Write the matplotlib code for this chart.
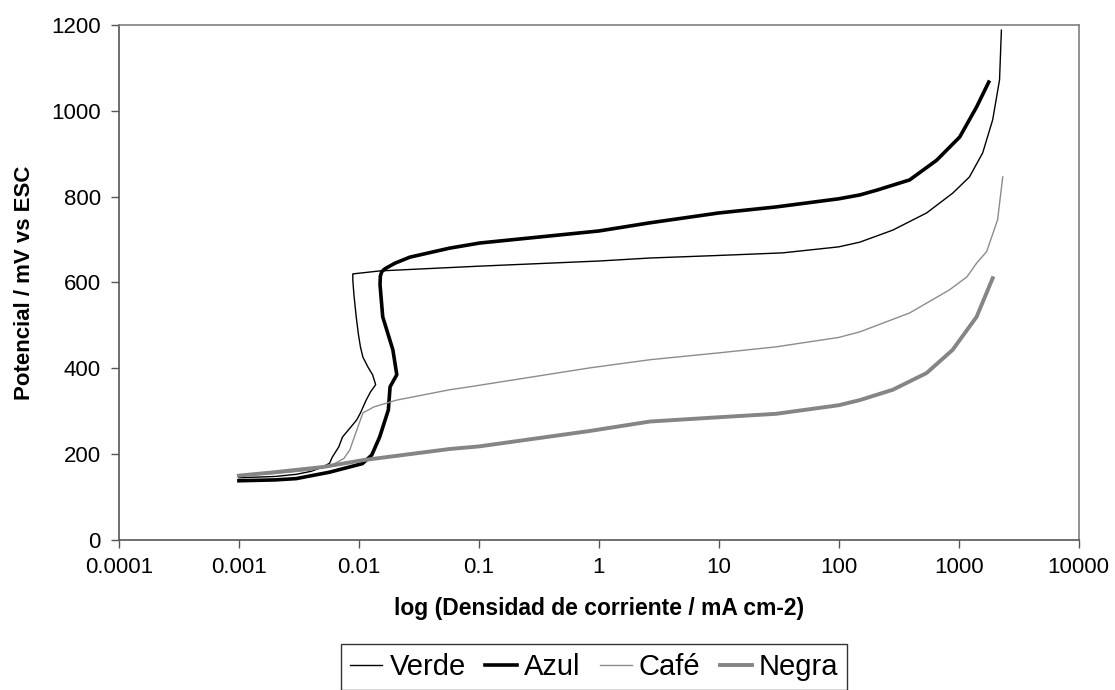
import matplotlib
matplotlib.use("Agg")
import matplotlib.pyplot as plt

plt.rcParams["font.family"] = ["Liberation Sans", "DejaVu Sans"]

# current density (mA cm-2) and potential (mV vs ESC)
verde_x = [0.001, 0.002, 0.003, 0.004, 0.005, 0.0057, 0.006, 0.0068, 0.0073, 0.0085, 0.0096,
           0.0103, 0.0115, 0.0125, 0.0138, 0.0130, 0.0119, 0.0108, 0.0103, 0.0099, 0.0095,
           0.0091, 0.0089, 0.0089, 0.015, 0.1, 1.0, 2.66, 10, 34, 100, 150, 282, 540, 890,
           1230, 1585, 1920, 2190, 2270]
verde_y = [145, 148, 153, 160, 170, 179, 193, 217, 240, 262, 280,
           296, 326, 345, 362, 385, 403, 426, 450, 480, 520,
           570, 605, 620, 627, 638, 650, 657, 663, 669, 683, 694, 722, 762, 808,
           846, 902, 979, 1072, 1188]

azul_x = [0.001, 0.002, 0.003, 0.0057, 0.0107, 0.0128, 0.0149, 0.0176, 0.0182, 0.0207,
          0.0192, 0.0158, 0.0150, 0.0151, 0.0155, 0.0165, 0.020, 0.0266, 0.057, 0.102,
          1.0, 2.66, 10, 30, 100, 150, 207, 390, 656, 1020, 1410, 1780]
azul_y = [138, 140, 143, 158, 178, 198, 240, 303, 357, 385,
          443, 520, 595, 615, 625, 632, 645, 659, 680, 692,
          720, 739, 762, 776, 795, 804, 815, 839, 885, 939, 1009, 1067]

cafe_x = [0.001, 0.002, 0.004, 0.006, 0.0075, 0.0084, 0.0096, 0.0108, 0.0133, 0.0207,
          0.057, 0.084, 0.84, 2.66, 10, 30, 100, 150, 390, 840, 1170, 1410, 1710, 2110,
          2330]
cafe_y = [150, 155, 163, 175, 190, 210, 256, 296, 310, 326,
          350, 357, 401, 420, 436, 450, 472, 485, 529, 583, 613, 645, 672, 746,
          846]

negra_x = [0.001, 0.002, 0.005, 0.0108, 0.057, 0.1, 0.84, 2.66, 10, 30, 100, 150, 282,
           540, 890, 1410, 1920]
negra_y = [150, 158, 170, 186, 212, 218, 254, 276, 286, 294, 314, 326, 350,
           389, 443, 520, 610]

series_names = ["Verde", "Azul", "Café", "Negra"]

x_ticks = [0.0001, 0.001, 0.01, 0.1, 1, 10, 100, 1000, 10000]
x_tick_labels = ["0.0001", "0.001", "0.01", "0.1", "1", "10", "100", "1000", "10000"]
y_ticks = [0, 200, 400, 600, 800, 1000, 1200]

fig = plt.figure(figsize=(11.15, 6.9), dpi=100)
ax = fig.add_axes([0.1067, 0.2174, 0.8607, 0.7464])

ax.plot(verde_x, verde_y, color="black", lw=1.0, label=series_names[0])
ax.plot(azul_x, azul_y, color="black", lw=2.6, label=series_names[1])
ax.plot(cafe_x, cafe_y, color="#8c8c8c", lw=1.0, label=series_names[2])
ax.plot(negra_x, negra_y, color="#858585", lw=2.8, label=series_names[3])

ax.set_xscale("log")
ax.set_xlim(0.0001, 10000)
ax.set_ylim(0, 1200)
ax.set_xticks(x_ticks)
ax.set_xticklabels(x_tick_labels)
ax.xaxis.set_minor_locator(matplotlib.ticker.NullLocator())
ax.set_yticks(y_ticks)

for s in ax.spines.values():
    s.set_color("#808080")
    s.set_linewidth(1.2)
ax.spines["bottom"].set_color("#555555")
ax.spines["left"].set_color("#555555")

ax.tick_params(axis="both", labelsize=16, length=6, width=1.0, color="#555555", direction="out")
ax.tick_params(axis="x", pad=6)
ax.tick_params(axis="y", pad=7)

ax.set_xlabel("log (Densidad de corriente / mA cm-2)", fontsize=16.5, fontweight="bold", labelpad=14)
ax.set_ylabel("Potencial / mV vs ESC", fontsize=16, fontweight="bold", labelpad=12)

leg = fig.legend(loc="upper center", bbox_to_anchor=(0.533, 0.066), borderaxespad=0, ncol=4,
                 fontsize=21, frameon=True, fancybox=False, edgecolor="black",
                 handlelength=1.1, handletextpad=0.25, columnspacing=0.65, borderpad=0.3)
leg.get_frame().set_linewidth(1.0)

fig.savefig("out.png", dpi=100)
